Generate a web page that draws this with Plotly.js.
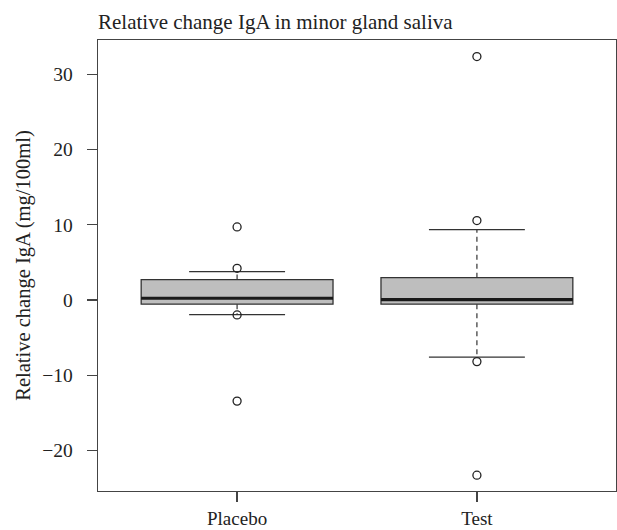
<!DOCTYPE html>
<html>
<head>
<meta charset="utf-8">
<script src="https://cdn.plot.ly/plotly-3.0.1.min.js"></script>
<style>html,body{margin:0;padding:0;background:#fff;}#chart{width:617px;height:530px;}</style>
</head>
<body>
<div id="chart"></div>
<script>
// Data
var categories = ['Placebo', 'Test'];
var positions = [1, 2];
var q1 = [-0.57, -0.57];
var medians = [0.22, 0.05];
var q3 = [2.7, 2.96];
var lowerWhisker = [-1.95, -7.6];
var upperWhisker = [3.76, 9.34];
var outliersPlacebo = [9.7, 4.2, -2.0, -13.45];
var outliersTest = [32.35, 10.55, -8.2, -23.3];
var outliers = [outliersPlacebo, outliersTest];
var yTicks = [-20, -10, 0, 10, 20, 30];

var boxHalf = 0.4, capHalf = 0.2;
var serif = '"Liberation Serif", "DejaVu Serif", serif';
var ink = '#333333';

var traces = [];
// Boxes
traces.push({
  type: 'box', x: positions, q1: q1, median: medians, q3: q3,
  lowerfence: q1, upperfence: q3, width: boxHalf * 2, whiskerwidth: 0,
  fillcolor: '#bebebe', line: {color: ink, width: 1.3},
  boxpoints: false, hoverinfo: 'skip', showlegend: false
});
// Whiskers (dashed) and caps (solid)
var wx = [], wy = [], cx = [], cy = [], mx = [], my = [];
for (var i = 0; i < positions.length; i++) {
  var p = positions[i];
  wx.push(p, p, null, p, p, null);
  wy.push(q3[i], upperWhisker[i], null, q1[i], lowerWhisker[i], null);
  cx.push(p - capHalf, p + capHalf, null, p - capHalf, p + capHalf, null);
  cy.push(upperWhisker[i], upperWhisker[i], null, lowerWhisker[i], lowerWhisker[i], null);
  mx.push(p - boxHalf, p + boxHalf, null);
  my.push(medians[i], medians[i], null);
}
traces.push({type: 'scatter', mode: 'lines', x: wx, y: wy, line: {color: ink, width: 1.2, dash: '5px,4px'}, hoverinfo: 'skip', showlegend: false});
traces.push({type: 'scatter', mode: 'lines', x: cx, y: cy, line: {color: ink, width: 1.3}, hoverinfo: 'skip', showlegend: false});
traces.push({type: 'scatter', mode: 'lines', x: mx, y: my, line: {color: '#1a1a1a', width: 3.2}, hoverinfo: 'skip', showlegend: false});
// Outliers
var ox = [], oy = [];
for (var j = 0; j < outliers.length; j++) {
  for (var k = 0; k < outliers[j].length; k++) { ox.push(positions[j]); oy.push(outliers[j][k]); }
}
traces.push({type: 'scatter', mode: 'markers', x: ox, y: oy,
  marker: {symbol: 'circle-open', size: 8, color: '#222', line: {width: 1.3, color: '#222'}},
  hoverinfo: 'skip', showlegend: false});

var layout = {
  width: 617, height: 530,
  margin: {l: 98, r: 1, t: 40, b: 39},
  paper_bgcolor: '#fff', plot_bgcolor: '#fff',
  font: {family: serif, color: '#222', size: 18},
  title: {text: 'Relative change IgA in minor gland saliva', x: 0, xref: 'paper', xanchor: 'left',
    yref: 'container', y: 0.959, yanchor: 'middle', font: {family: serif, size: 21, color: '#222'}},
  xaxis: {range: [0.42, 2.58], tickvals: positions, ticktext: categories, showgrid: false, zeroline: false,
    showline: true, mirror: true, linecolor: '#444', linewidth: 1.3,
    ticks: 'outside', ticklen: 10, tickcolor: '#444', tickwidth: 1.2,
    tickfont: {family: serif, size: 19, color: '#222'}, ticklabelstandoff: 0},
  yaxis: {range: [-25.4, 34.55], tickvals: yTicks, showgrid: false, zeroline: false,
    showline: true, mirror: true, linecolor: '#444', linewidth: 1.3,
    ticks: 'outside', ticklen: 10, tickcolor: '#444', tickwidth: 1.2,
    tickfont: {family: serif, size: 19.5, color: '#222'}, ticklabelstandoff: 10,
    title: {text: 'Relative change IgA (mg/100ml)', font: {family: serif, size: 20.5, color: '#222'}, standoff: 6}}
};

Plotly.newPlot('chart', traces, layout, {staticPlot: true, displayModeBar: false});
</script>
</body>
</html>
